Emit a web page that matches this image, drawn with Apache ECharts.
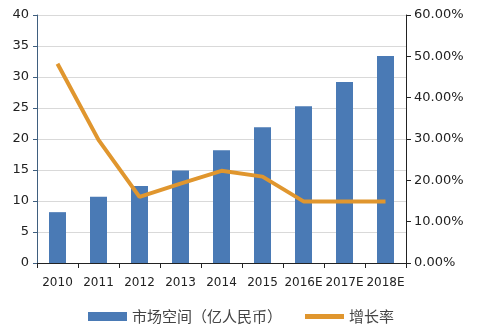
<!DOCTYPE html>
<html><head><meta charset="utf-8">
<script src="https://cdn.jsdelivr.net/npm/echarts@6/dist/echarts.min.js"></script>
<style>html,body{margin:0;padding:0;background:#fff}#c{width:480px;height:329px}</style>
</head><body><div id="c"></div>
<script>
const categories = ['2010','2011','2012','2013','2014','2015','2016E','2017E','2018E'];
const marketSize = [8.2, 10.7, 12.4, 14.9, 18.2, 21.9, 25.3, 29.2, 33.4];
const growthRate = [48.2, 29.8, 16.0, 19.2, 22.3, 20.9, 14.9, 14.9, 14.9];
const leftTicks = [0, 40, 5];
const rightTicks = [0, 60, 10];
const seriesNames = ['市场空间（亿人民币）', '增长率'];

const chart = echarts.init(document.getElementById('c'));
const font = "'DejaVu Sans', 'Noto Sans CJK SC', sans-serif";
const cjk = "'Noto Sans CJK SC', sans-serif";
chart.setOption({
  animation: false,
  textStyle: { fontFamily: font },
  grid: { left: 37, right: 74, top: 15, bottom: 66 },
  legend: [{
    top: 309, left: 88, padding: 0, itemWidth: 39, itemHeight: 9,
    textStyle: { fontSize: 15, color: '#444', fontFamily: cjk },
    data: [{ name: seriesNames[0], icon: 'rect' }]
  }, {
    top: 309, left: 305, padding: 0, itemWidth: 39, itemHeight: 5,
    textStyle: { fontSize: 15, color: '#444', fontFamily: cjk },
    data: [{ name: seriesNames[1], icon: 'rect' }]
  }],
  xAxis: {
    type: 'category', data: categories,
    axisLine: { lineStyle: { color: '#222', width: 1 } },
    axisTick: { show: true, alignWithLabel: false, length: 5, lineStyle: { color: '#222' } },
    axisLabel: { color: '#222', fontSize: 12, margin: 14, interval: 0, fontFamily: font }
  },
  yAxis: [{
    type: 'value', min: leftTicks[0], max: leftTicks[1], interval: leftTicks[2],
    axisLine: { show: true, lineStyle: { color: '#3f5f7f' } },
    axisTick: { show: true, length: 4, lineStyle: { color: '#3f5f7f' } },
    axisLabel: { color: '#222', fontSize: 13, margin: 8, fontFamily: font },
    splitLine: { lineStyle: { color: '#d9d9d9' } }
  }, {
    type: 'value', min: rightTicks[0], max: rightTicks[1], interval: rightTicks[2],
    position: 'right',
    axisLine: { show: true, lineStyle: { color: '#222' } },
    axisTick: { show: true, length: 5, lineStyle: { color: '#222' } },
    axisLabel: { color: '#222', fontSize: 13, margin: 8, fontFamily: font,
      formatter: v => v.toFixed(2) + '%' },
    splitLine: { show: false }
  }],
  series: [{
    name: seriesNames[0], type: 'bar', data: marketSize, barWidth: 17,
    itemStyle: { color: '#4a7ab5' }
  }, {
    name: seriesNames[1], type: 'line', yAxisIndex: 1, data: growthRate,
    symbol: 'none', lineStyle: { color: '#e0962e', width: 4 },
    itemStyle: { color: '#e0962e' }
  }]
});
</script></body></html>
